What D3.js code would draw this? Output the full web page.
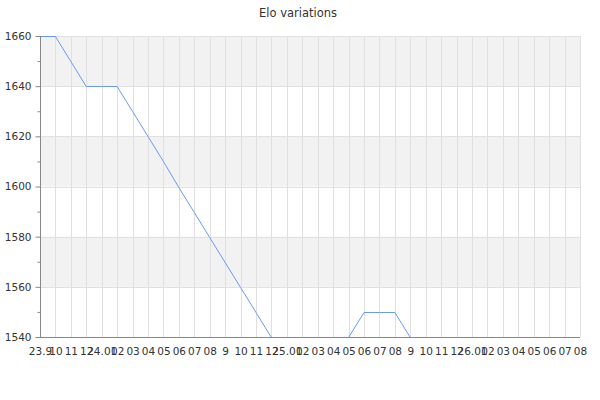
<!DOCTYPE html>
<html>
<head>
<meta charset="utf-8">
<script src="https://cdn.jsdelivr.net/npm/d3@7"></script>
<style>
  body { margin: 0; background: #fff; }
  text { font-family: "DejaVu Sans", sans-serif; fill: #333; }
</style>
</head>
<body>
<svg id="chart"></svg>
<script>
// month keys along the x axis
const months = [
    "2023-09", "2023-10", "2023-11", "2023-12",
    "2024-01", "2024-02", "2024-03", "2024-04", "2024-05", "2024-06",
    "2024-07", "2024-08", "2024-09", "2024-10", "2024-11", "2024-12",
    "2025-01", "2025-02", "2025-03", "2025-04", "2025-05", "2025-06",
    "2025-07", "2025-08", "2025-09", "2025-10", "2025-11", "2025-12",
    "2026-01", "2026-02", "2026-03", "2026-04", "2026-05", "2026-06",
    "2026-07", "2026-08"
];
// labels as printed under each tick
const monthLabels = [
    "23.9", "10", "11", "12",
    "24.01", "02", "03", "04", "05", "06", "07", "08", "9", "10", "11", "12",
    "25.01", "02", "03", "04", "05", "06", "07", "08", "9", "10", "11", "12",
    "26.01", "02", "03", "04", "05", "06", "07", "08"
];
// elo at each month
const eloValues = [
    1660, 1660, 1650, 1640,
    1640, 1640, 1630, 1620, 1610, 1600, 1590, 1580, 1570, 1560, 1550, 1540,
    1540, 1540, 1540, 1540, 1540, 1550, 1550, 1550, 1540, 1540, 1540, 1540,
    1540, 1540, 1540, 1540, 1540, 1540, 1540, 1540
];
const yMajorTicks = [1540, 1560, 1580, 1600, 1620, 1640, 1660];
const yMinorTicks = [1550, 1570, 1590, 1610, 1630, 1650];

const width = 600;
const height = 400;
const margin = {top: 36, right: 20, bottom: 63, left: 40};

const svg = d3.select('#chart')
    .attr('width', width)
    .attr('height', height);

const x = d3.scalePoint()
    .domain(months)
    .range([margin.left, width - margin.right]);

const y = d3.scaleLinear()
    .domain([1540, 1660])
    .range([height - margin.bottom, margin.top]);

// title
svg.append('text')
    .attr('x', 298)
    .attr('y', 17)
    .attr('text-anchor', 'middle')
    .style('font-size', '11.5px')
    .text('Elo variations');

// alternating bands, grey on every other 20 points
const bands = d3.pairs(yMajorTicks).filter((d, i) => i % 2 == 1);
svg.append('g').selectAll('rect')
    .data(bands)
    .enter()
    .append('rect')
    .attr('x', margin.left)
    .attr('y', d => y(d[1]))
    .attr('width', x.range()[1] - margin.left)
    .attr('height', d => y(d[0]) - y(d[1]))
    .attr('fill', '#f2f2f2');

// grid
const grid = svg.append('g')
    .attr('stroke', '#e0e0e0')
    .attr('stroke-width', 1);
grid.selectAll('.vgrid')
    .data(months)
    .enter()
    .append('line')
    .attr('x1', d => Math.round(x(d)) + 0.5)
    .attr('x2', d => Math.round(x(d)) + 0.5)
    .attr('y1', y(1660))
    .attr('y2', y(1540));
grid.selectAll('.hgrid')
    .data(yMajorTicks.slice(1))
    .enter()
    .append('line')
    .attr('x1', margin.left)
    .attr('x2', x.range()[1])
    .attr('y1', d => Math.round(y(d)) + 0.5)
    .attr('y2', d => Math.round(y(d)) + 0.5);

// elo line
const line = d3.line()
    .x((d, i) => x(months[i]))
    .y(d => Math.round(y(d)) + 0.5);
svg.append('path')
    .datum(eloValues)
    .attr('fill', 'none')
    .attr('stroke', '#6a9af0')
    .attr('stroke-width', 1)
    .attr('d', line);

// y axis with major and minor ticks
const yAxis = svg.append('g')
    .attr('transform', 'translate(' + (margin.left + 0.5) + ',0)')
    .call(d3.axisLeft(y).tickValues(yMajorTicks).tickSize(5).tickPadding(4).tickFormat(d3.format('d')));
yAxis.append('g')
    .call(d3.axisLeft(y).tickValues(yMinorTicks).tickSize(3).tickFormat(''))
    .select('.domain').remove();
yAxis.selectAll('text')
    .style('font-size', '10.5px')
    .attr('fill', '#333');

// x axis, drawn over the line so the flat 1540 stretch hides under it
const xAxis = svg.append('g')
    .attr('transform', 'translate(0,' + (Math.round(y(1540)) + 0.5) + ')')
    .call(d3.axisBottom(x).tickSize(0).tickPadding(10).tickFormat((d, i) => monthLabels[i]));
xAxis.selectAll('text')
    .style('font-size', '10.5px')
    .attr('fill', '#333');

svg.selectAll('.domain, .tick line').attr('stroke', '#888');
xAxis.select('.domain').attr('d', 'M' + margin.left + ',0H' + x.range()[1]);
yAxis.select('.domain').attr('d', 'M0,' + y(1660) + 'V' + y(1540));
</script>
</body>
</html>
